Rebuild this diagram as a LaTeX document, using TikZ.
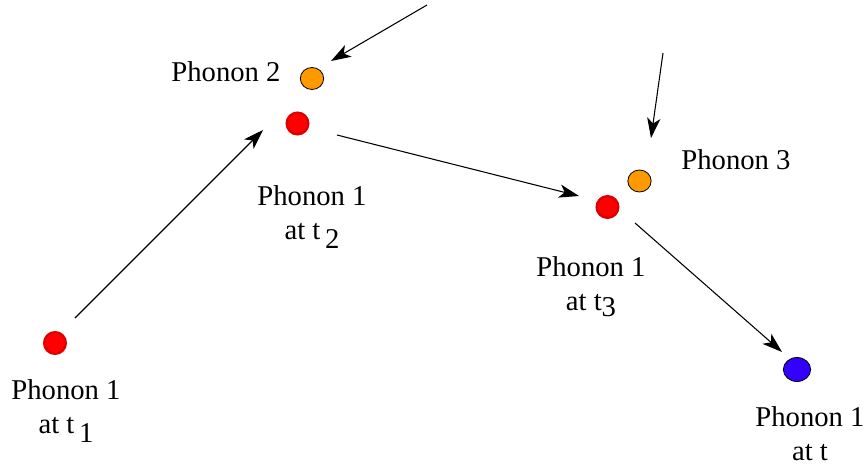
\documentclass[tikz,border=0pt]{standalone}
\usepackage{fontspec}
\setmainfont{Liberation Serif}
\newfontfamily\labelfont{Liberation Serif}
\usetikzlibrary{arrows.meta,shapes.geometric}
\newcommand{\lowsub}[1]{\,\raisebox{-7pt}{#1}}
\newcommand{\tightsub}[1]{\raisebox{-5pt}{#1}}
\begin{document}
\begin{tikzpicture}[x=0.75pt,y=-0.75pt,
  redph/.style={circle,fill=red,draw=red!87!black,line width=1.8pt,minimum size=16.2pt,inner sep=0pt},
  orangeph/.style={ellipse,fill=orange!80!yellow,draw=black,line width=0.6pt,minimum width=17.5pt,minimum height=16.5pt,inner sep=0pt},
  blueph/.style={ellipse,fill={rgb,255:red,51;green,0;blue,255},draw=black,line width=0.6pt,minimum width=20.5pt,minimum height=18pt,inner sep=0pt},
  lbl/.style={font=\labelfont\fontsize{21.5}{25.5}\selectfont,align=center,inner sep=0pt},
  arr/.style={-{Stealth[length=15pt,width=10pt,inset=4pt]},line width=0.8pt}
]
\useasboundingbox (0,0) rectangle (865,468);

% phonon dots
\node[redph] (r1) at (55,343) {};
\node[redph] (r2) at (297.5,123.5) {};
\node[redph] (r3) at (607.5,207) {};
\node[orangeph] (o2) at (312,78.5) {};
\node[orangeph] (o3) at (639.5,181) {};
\node[blueph] (b) at (797,369.5) {};

% labels
\node[lbl,anchor=north] (l1) at (66,379) {Phonon 1\\at t\lowsub{1}};
\node[lbl,anchor=north] (l2) at (312,185) {Phonon 1\\at t\lowsub{2}};
\node[lbl,anchor=north] (l3) at (591,256) {Phonon 1\\at t\tightsub{3}};
\node[lbl,anchor=north] (l4) at (810,406) {Phonon 1\\at t};
\node[lbl] (p2) at (226,72) {Phonon 2};
\node[lbl] (p3) at (736,160) {Phonon 3};

% arrow end points
\coordinate (a1s) at (75,318);   \coordinate (a1e) at (263,130);
\coordinate (a2s) at (427,5);    \coordinate (a2e) at (331,61);
\coordinate (a3s) at (337,135);  \coordinate (a3e) at (579,196);
\coordinate (a4s) at (663,53);   \coordinate (a4e) at (651,138);
\coordinate (a5s) at (635,223);  \coordinate (a5e) at (782,352);

\draw[arr] (a1s) -- (a1e);
\draw[arr] (a2s) -- (a2e);
\draw[arr] (a3s) -- (a3e);
\draw[arr] (a4s) -- (a4e);
\draw[arr] (a5s) -- (a5e);
\end{tikzpicture}
\end{document}
